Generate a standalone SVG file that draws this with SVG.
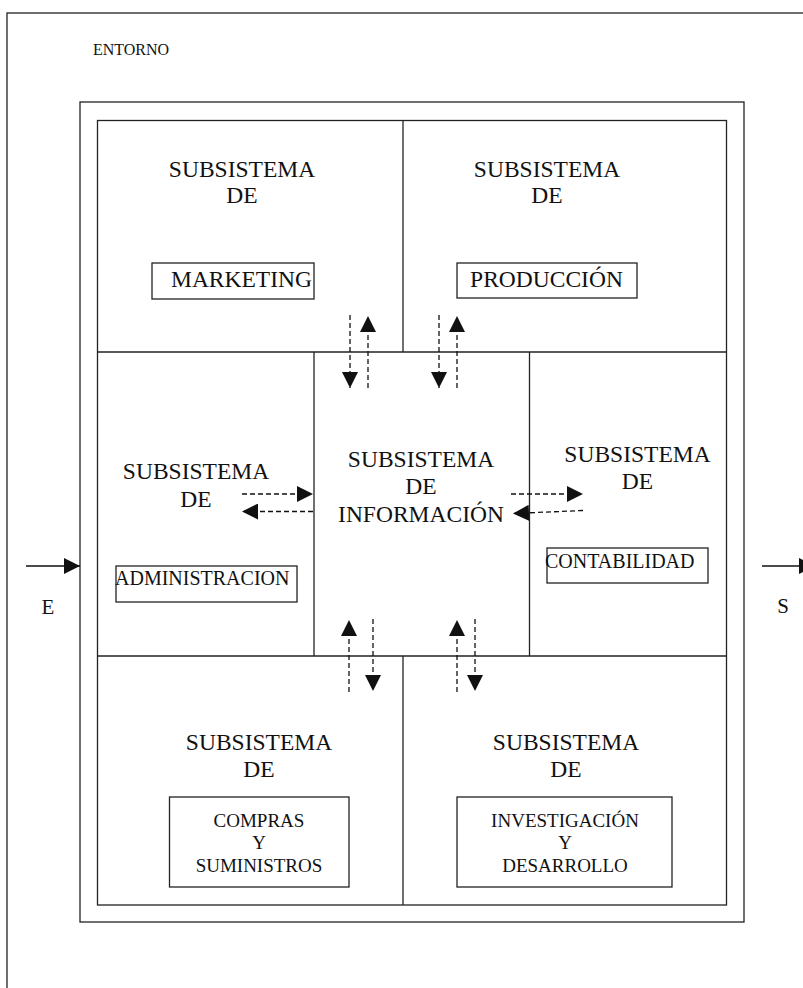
<svg xmlns="http://www.w3.org/2000/svg" width="803" height="988" viewBox="0 0 803 988">
<style>
  .ln { fill: none; stroke: #222; stroke-width: 1.3; }
  .bx { fill: none; stroke: #222; stroke-width: 1.3; }
  .t { font-family: "Liberation Serif", "Times New Roman", serif; fill: #111; }
  .big { font-size: 23.5px; }
  .mid { font-size: 20px; }
  .sm { font-size: 19px; }
  .c { text-anchor: middle; }
  .dash { fill: none; stroke: #111; stroke-width: 1.3; stroke-dasharray: 5 3; }
  .sol { fill: none; stroke: #111; stroke-width: 1.3; }
</style>
<defs>
  <marker id="ah" markerUnits="userSpaceOnUse" markerWidth="16" markerHeight="16" viewBox="0 0 14 14" refX="14" refY="7" orient="auto">
    <path d="M0,0 L14,7 L0,14 z" fill="#111"/>
  </marker>
</defs>
<rect width="803" height="988" fill="#fff"/>

<g id="entorno">
  <rect class="ln" x="7" y="13" width="900" height="1000"/>
  <text class="t" font-size="16" x="93" y="55">ENTORNO</text>
</g>

<g id="sistema">
  <rect class="ln" x="80" y="102" width="664" height="820"/>
  <rect class="ln" x="97.5" y="120.5" width="629" height="784.5"/>
  <line class="ln" x1="97.5" y1="352" x2="726.5" y2="352"/>
  <line class="ln" x1="97.5" y1="656" x2="726.5" y2="656"/>
  <line class="ln" x1="403" y1="120.5" x2="403" y2="352"/>
  <line class="ln" x1="403" y1="656" x2="403" y2="905"/>
</g>

<g id="marketing">
  <text class="t big c" x="242" y="177">SUBSISTEMA</text>
  <text class="t big c" x="242" y="203">DE</text>
  <rect class="bx" x="152" y="263" width="162" height="36"/>
  <text class="t big" x="171" y="287">MARKETING</text>
</g>

<g id="produccion">
  <text class="t big c" x="547" y="177">SUBSISTEMA</text>
  <text class="t big c" x="547" y="203">DE</text>
  <rect class="bx" x="457" y="263" width="180" height="35"/>
  <text class="t big c" x="546.5" y="287">PRODUCCIÓN</text>
</g>

<g id="informacion">
  <line class="ln" x1="314" y1="352" x2="314" y2="656"/>
  <line class="ln" x1="529.5" y1="352" x2="529.5" y2="656"/>
  <text class="t big c" x="421" y="467">SUBSISTEMA</text>
  <text class="t big c" x="421" y="494">DE</text>
  <text class="t big c" x="421" y="522">INFORMACIÓN</text>
</g>

<g id="administracion">
  <text class="t big c" x="196" y="479">SUBSISTEMA</text>
  <text class="t big c" x="196" y="507">DE</text>
  <rect class="bx" x="116" y="566" width="181" height="36"/>
  <text class="t mid" x="115" y="585">ADMINISTRACION</text>
</g>

<g id="contabilidad">
  <text class="t big c" x="637.5" y="462">SUBSISTEMA</text>
  <text class="t big c" x="637.5" y="489">DE</text>
  <rect class="bx" x="547" y="548" width="161" height="35"/>
  <text class="t mid" x="545" y="568">CONTABILIDAD</text>
</g>

<g id="compras">
  <text class="t big c" x="259" y="750">SUBSISTEMA</text>
  <text class="t big c" x="259" y="777">DE</text>
  <rect class="bx" x="169.5" y="797" width="179.5" height="90"/>
  <text class="t sm c" x="259" y="827">COMPRAS</text>
  <text class="t sm c" x="259" y="849">Y</text>
  <text class="t sm c" x="259" y="872">SUMINISTROS</text>
</g>

<g id="investigacion">
  <text class="t big c" x="566" y="750">SUBSISTEMA</text>
  <text class="t big c" x="566" y="777">DE</text>
  <rect class="bx" x="457" y="797" width="215" height="90"/>
  <text class="t sm c" x="565" y="827">INVESTIGACIÓN</text>
  <text class="t sm c" x="565" y="849">Y</text>
  <text class="t sm c" x="565" y="872">DESARROLLO</text>
</g>

<g id="labels-es">
  <text class="t c" font-size="21" x="48" y="614">E</text>
  <text class="t c" font-size="21" x="783" y="613">S</text>
</g>

<g id="connectors">
  <line class="dash" x1="350" y1="315" x2="350" y2="388" marker-end="url(#ah)"/>
  <line class="dash" x1="368" y1="388" x2="368" y2="316" marker-end="url(#ah)"/>
  <line class="dash" x1="439" y1="315" x2="439" y2="388" marker-end="url(#ah)"/>
  <line class="dash" x1="457" y1="388" x2="457" y2="316" marker-end="url(#ah)"/>
  <line class="dash" x1="242" y1="494" x2="313" y2="494" marker-end="url(#ah)"/>
  <line class="dash" x1="313" y1="511.5" x2="242" y2="511.5" marker-end="url(#ah)"/>
  <line class="dash" x1="511" y1="494" x2="583" y2="494" marker-end="url(#ah)"/>
  <line class="dash" x1="583" y1="510.5" x2="513" y2="513.5" marker-end="url(#ah)"/>
  <line class="dash" x1="349" y1="692" x2="349" y2="620" marker-end="url(#ah)"/>
  <line class="dash" x1="373" y1="619" x2="373" y2="691" marker-end="url(#ah)"/>
  <line class="dash" x1="457" y1="692" x2="457" y2="620" marker-end="url(#ah)"/>
  <line class="dash" x1="475" y1="619" x2="475" y2="691" marker-end="url(#ah)"/>
  <line class="sol" x1="26" y1="566" x2="80" y2="566" marker-end="url(#ah)"/>
  <line class="sol" x1="762" y1="566" x2="815" y2="566" marker-end="url(#ah)"/>
</g>
</svg>
